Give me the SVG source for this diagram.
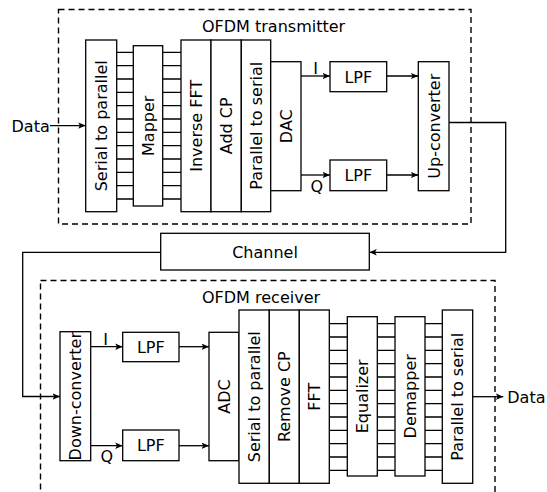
<svg xmlns="http://www.w3.org/2000/svg" width="547" height="492" viewBox="0 0 547 492">
<defs>
<style>
.b{fill:#fff;stroke:#000;stroke-width:1.3}
.d{fill:none;stroke:#000;stroke-width:1.4;stroke-dasharray:6 4}
.c{fill:none;stroke:#000;stroke-width:1.3}
.t{font-family:"DejaVu Sans","Liberation Sans",sans-serif;font-size:16px;fill:#000}
.m{text-anchor:middle}
</style>
<marker id="ah" markerUnits="userSpaceOnUse" markerWidth="9" markerHeight="8" refX="7.5" refY="4" orient="auto">
<path d="M0,0.8 L7.5,4 L0,7.2 L1.8,4 z" fill="#000"/>
</marker>
</defs>
<rect width="547" height="492" fill="#fff"/>

<g id="tx-frame">
<rect class="d" x="58.5" y="9.5" width="412.5" height="214.5"/>
<text class="t" x="202" y="31.7">OFDM transmitter</text>
</g>
<g id="rx-frame">
<rect class="d" x="40.5" y="280.5" width="454.5" height="230"/>
<text class="t" x="202" y="303.3">OFDM receiver</text>
</g>

<g id="connectors">
<path class="c" d="M116.7 52.3H133.3M116.7 65.6H133.3M116.7 79H133.3M116.7 92.3H133.3M116.7 105.6H133.3M116.7 119H133.3M116.7 132.3H133.3M116.7 145.6H133.3M116.7 159H133.3M116.7 172.3H133.3M116.7 185.6H133.3M116.7 199H133.3"/>
<path class="c" d="M162.7 52.3H181M162.7 65.6H181M162.7 79H181M162.7 92.3H181M162.7 105.6H181M162.7 119H181M162.7 132.3H181M162.7 145.6H181M162.7 159H181M162.7 172.3H181M162.7 185.6H181M162.7 199H181"/>
<path class="c" d="M329.3 323.7H347.3M329.3 337H347.3M329.3 350.4H347.3M329.3 363.7H347.3M329.3 377H347.3M329.3 390.4H347.3M329.3 403.7H347.3M329.3 417H347.3M329.3 430.4H347.3M329.3 443.7H347.3M329.3 457H347.3M329.3 470.4H347.3"/>
<path class="c" d="M377.3 323.7H395M377.3 337H395M377.3 350.4H395M377.3 363.7H395M377.3 377H395M377.3 390.4H395M377.3 403.7H395M377.3 417H395M377.3 430.4H395M377.3 443.7H395M377.3 457H395M377.3 470.4H395"/>
<path class="c" d="M425 323.7H442.3M425 337H442.3M425 350.4H442.3M425 363.7H442.3M425 377H442.3M425 390.4H442.3M425 403.7H442.3M425 417H442.3M425 430.4H442.3M425 443.7H442.3M425 457H442.3M425 470.4H442.3"/>
<path class="c" d="M50 125.6H85.7" marker-end="url(#ah)"/>
<path class="c" d="M301 76H330" marker-end="url(#ah)"/>
<path class="c" d="M301 175H330" marker-end="url(#ah)"/>
<path class="c" d="M386.7 76H418.3" marker-end="url(#ah)"/>
<path class="c" d="M386.7 175H418.3" marker-end="url(#ah)"/>
<path class="c" d="M449 122.5H505.7V252.3H369.3" marker-end="url(#ah)"/>
<path class="c" d="M160.7 252.3H22.7V396.5H60" marker-end="url(#ah)"/>
<path class="c" d="M90.7 346.7H122.7" marker-end="url(#ah)"/>
<path class="c" d="M90.7 445.7H122.7" marker-end="url(#ah)"/>
<path class="c" d="M179 346.7H209" marker-end="url(#ah)"/>
<path class="c" d="M179 445.7H209" marker-end="url(#ah)"/>
<path class="c" d="M472.7 396.7H503.3" marker-end="url(#ah)"/>
<text class="t m" x="315.7" y="73.5">I</text>
<text class="t m" x="316.7" y="191.5">Q</text>
<text class="t m" x="105.7" y="345">I</text>
<text class="t m" x="106.7" y="461.5">Q</text>
</g>

<g id="data-in"><text class="t" x="11.5" y="131.7">Data</text></g>
<g id="tx-sp"><rect class="b" x="85.7" y="40" width="31" height="171.7"/><text class="t m" transform="translate(101.2,125.8) rotate(-90)" y="5.85">Serial to parallel</text></g>
<g id="tx-mapper"><rect class="b" x="133.3" y="45.7" width="29.4" height="160.3"/><text class="t m" transform="translate(148,125.8) rotate(-90)" y="5.85">Mapper</text></g>
<g id="tx-ifft"><rect class="b" x="181" y="40" width="30" height="171.7"/><text class="t m" transform="translate(196,125.8) rotate(-90)" y="5.85">Inverse FFT</text></g>
<g id="tx-addcp"><rect class="b" x="211" y="40" width="30.3" height="171.7"/><text class="t m" transform="translate(226.2,125.8) rotate(-90)" y="5.85">Add CP</text></g>
<g id="tx-ps"><rect class="b" x="241.3" y="40" width="29.4" height="171.7"/><text class="t m" transform="translate(256,125.8) rotate(-90)" y="5.85">Parallel to serial</text></g>
<g id="tx-dac"><rect class="b" x="270.7" y="61.7" width="30.3" height="129"/><text class="t m" transform="translate(285.8,126.2) rotate(-90)" y="5.85">DAC</text></g>
<g id="tx-lpf-i"><rect class="b" x="330" y="61.7" width="56.7" height="30"/><text class="t m" x="358.3" y="82.5">LPF</text></g>
<g id="tx-lpf-q"><rect class="b" x="330" y="160" width="56.7" height="30.7"/><text class="t m" x="358.3" y="181.2">LPF</text></g>
<g id="tx-up"><rect class="b" x="418.3" y="61.7" width="30.7" height="129"/><text class="t m" transform="translate(433.7,126.2) rotate(-90)" y="5.85">Up-converter</text></g>

<g id="channel"><rect class="b" x="160.7" y="233.3" width="208.6" height="36.7"/><text class="t m" x="265" y="257.5">Channel</text></g>

<g id="rx-down"><rect class="b" x="60" y="331.7" width="30.7" height="129"/><text class="t m" transform="translate(75.3,396.2) rotate(-90)" y="5.85">Down-converter</text></g>
<g id="rx-lpf-i"><rect class="b" x="122.7" y="332.3" width="56.3" height="29.4"/><text class="t m" x="150.8" y="352.8">LPF</text></g>
<g id="rx-lpf-q"><rect class="b" x="122.7" y="430" width="56.3" height="30.7"/><text class="t m" x="150.8" y="451.2">LPF</text></g>
<g id="rx-adc"><rect class="b" x="209" y="332.3" width="30" height="128.4"/><text class="t m" transform="translate(224,396.5) rotate(-90)" y="5.85">ADC</text></g>
<g id="rx-sp"><rect class="b" x="239" y="310" width="30.3" height="173.3"/><text class="t m" transform="translate(254.2,396.7) rotate(-90)" y="5.85">Serial to parallel</text></g>
<g id="rx-rmcp"><rect class="b" x="269.3" y="310" width="30" height="173.3"/><text class="t m" transform="translate(284.3,396.7) rotate(-90)" y="5.85">Remove CP</text></g>
<g id="rx-fft"><rect class="b" x="299.3" y="310" width="30" height="173.3"/><text class="t m" transform="translate(314.3,396.7) rotate(-90)" y="5.85">FFT</text></g>
<g id="rx-eq"><rect class="b" x="347.3" y="316.7" width="30" height="159.3"/><text class="t m" transform="translate(362.3,396.3) rotate(-90)" y="5.85">Equalizer</text></g>
<g id="rx-demap"><rect class="b" x="395" y="316.7" width="30" height="159.3"/><text class="t m" transform="translate(410,396.3) rotate(-90)" y="5.85">Demapper</text></g>
<g id="rx-ps"><rect class="b" x="442.3" y="310" width="30.4" height="173.3"/><text class="t m" transform="translate(457.5,396.7) rotate(-90)" y="5.85">Parallel to serial</text></g>
<g id="data-out"><text class="t" x="507.3" y="402.5">Data</text></g>
</svg>
